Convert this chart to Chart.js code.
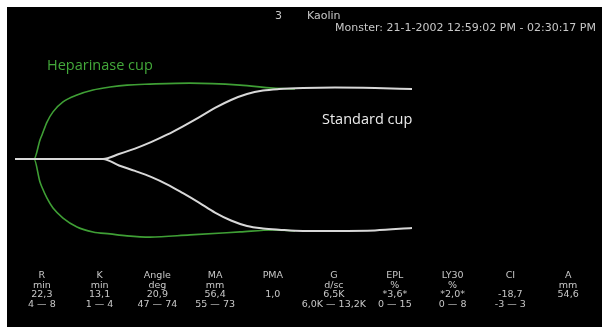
<!DOCTYPE html>
<html>
<head>
<meta charset="utf-8">
<script src="https://cdn.jsdelivr.net/npm/chart.js@4.4.1/dist/chart.umd.min.js"></script>
<style>
  html, body { margin: 0; padding: 0; background: #fff; }
  #screen { position: absolute; left: 7px; top: 7px; width: 595px; height: 320px; background: #000; overflow: hidden; }
  #wrap { position: absolute; left: 0; top: 0; width: 595px; height: 320px; }
  .hdr { position: absolute; color: #c8c8c8; font-family: "DejaVu Sans", sans-serif; font-size: 11px; white-space: nowrap; }
  .lbl { position: absolute; font-family: "Open Sans", sans-serif; font-size: 14.5px; white-space: nowrap; }
  #table { position: absolute; left: 6px; top: 263px; width: 584px; display: grid; grid-template-columns: repeat(10, 1fr);
           color: #c8c8c8; font-family: "DejaVu Sans", sans-serif; font-size: 9.5px; line-height: 9.7px; text-align: center; }
  #table div { white-space: nowrap; min-height: 9.7px; }
</style>
</head>
<body>
<div id="screen">
  <div id="wrap"><canvas id="tegChart"></canvas></div>
  <div class="hdr" style="left:268px; top:2px;">3</div>
  <div class="hdr" style="left:300px; top:2px;">Kaolin</div>
  <div class="hdr" style="left:328px; top:14px;">Monster: 21-1-2002 12:59:02 PM - 02:30:17 PM</div>
  <div class="lbl" style="left:40px; top:48px; color:#43a83a;">Heparinase cup</div>
  <div class="lbl" style="left:315px; top:102px; color:#ececec;">Standard cup</div>
  <div id="table"></div>
</div>

<script>
// time in minutes, amplitude in mm from the centre line
const heparinaseTime = [0, 4.75, 6.25, 6.75, 8, 9.5, 12, 15.5, 19.5, 23.75, 28, 33.75, 43.75, 56.25, 64.5, 70];
const heparinaseUpper = [0, 0, 7.7, 9.7, 14.9, 19.0, 23.0, 25.8, 27.8, 29.0, 29.8, 30.2, 30.6, 29.8, 28.6, 28.2];
const heparinaseLower = [0, 0, -9.3, -11.4, -15.8, -19.8, -23.8, -27.4, -29.4, -30.2, -31.0, -31.5, -30.6, -29.4, -28.6, -29.0];

const standardTime = [0, 22, 26, 30, 34, 38, 42, 46, 50, 54, 58, 62, 66, 72, 80, 90, 99.25];
const standardUpper = [0, 0, 2.0, 4.2, 6.8, 9.8, 13.2, 16.8, 20.6, 23.8, 26.2, 27.6, 28.2, 28.6, 28.8, 28.6, 28.2];
const standardLower = [0, 0, -2.6, -4.8, -7.2, -10.2, -13.8, -17.6, -21.6, -24.8, -27.0, -28.0, -28.5, -29.0, -29.0, -28.8, -27.8];

// parameter table
const paramNames = ['R', 'K', 'Angle', 'MA', 'PMA', 'G', 'EPL', 'LY30', 'CI', 'A'];
const paramUnits = ['min', 'min', 'deg', 'mm', '', 'd/sc', '%', '%', '', 'mm'];
const paramValues = ['22,3', '13,1', '20,9', '56,4', '1,0', '6,5K', '*3,6*', '*2,0*', '-18,7', '54,6'];
const paramRanges = ['4 \u2014 8', '1 \u2014 4', '47 \u2014 74', '55 \u2014 73', '', '6,0K \u2014 13,2K', '0 \u2014 15', '0 \u2014 8', '-3 \u2014 3', ''];

// build the table, one grid row at a time
const table = document.getElementById('table');
[paramNames, paramUnits, paramValues, paramRanges].forEach(row => {
  row.forEach(txt => {
    const cell = document.createElement('div');
    cell.textContent = txt;
    table.appendChild(cell);
  });
});

const toPoints = (xs, ys) => xs.map((x, i) => ({ x, y: ys[i] }));

const lineStyle = {
  pointRadius: 0,
  fill: false,
  cubicInterpolationMode: 'monotone',
};

new Chart('tegChart', {
  type: 'line',
  data: {
    datasets: [
      { ...lineStyle, label: 'Standard cup', data: toPoints(standardTime, standardUpper), borderColor: '#d8d8d8', borderWidth: 2 },
      { ...lineStyle, label: 'Standard cup', data: toPoints(standardTime, standardLower), borderColor: '#d8d8d8', borderWidth: 2 },
      { ...lineStyle, label: 'Heparinase cup', data: toPoints(heparinaseTime, heparinaseUpper), borderColor: '#3f9f35', borderWidth: 1.6 },
      { ...lineStyle, label: 'Heparinase cup', data: toPoints(heparinaseTime, heparinaseLower), borderColor: '#3f9f35', borderWidth: 1.6 },
    ],
  },
  options: {
    responsive: true,
    maintainAspectRatio: false,
    animation: false,
    layout: { padding: 0 },
    plugins: { legend: { display: false }, tooltip: { enabled: false } },
    scales: {
      x: { type: 'linear', min: -2, max: 146.75, display: false },
      y: { type: 'linear', min: -67.74, max: 61.29, display: false },
    },
  },
});
</script>
</body>
</html>
